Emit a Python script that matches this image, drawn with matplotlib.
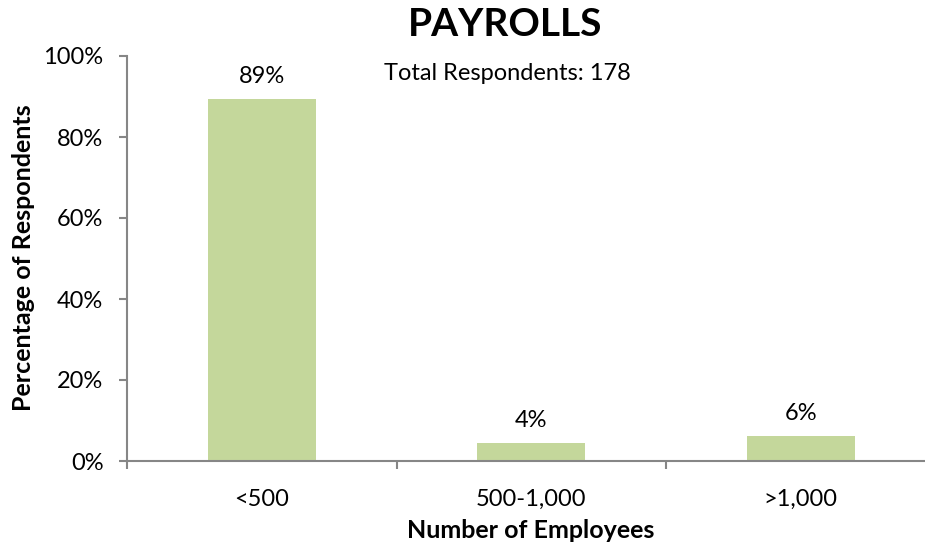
import matplotlib
matplotlib.use("Agg")
import matplotlib.pyplot as plt

# =========================
# DATA
# =========================

categories = ["<500", "500-1,000", ">1,000"]
values = [89.3, 4.5, 6.2]
value_labels = ["89%", "4%", "6%"]

# =========================
# PLOT
# =========================

plt.rcParams["font.family"] = ["Lato", "DejaVu Sans"]

fig = plt.figure(figsize=(9.25, 5.46), dpi=100)
ax = fig.add_axes([127 / 925, 85 / 546, 808.5 / 925, 405 / 546])

x = list(range(len(categories)))
ax.bar(x, values, width=0.4, color="#c4d79b")

for xi, v, lab in zip(x, values, value_labels):
    ax.text(xi, v + 3, lab, ha="center", va="bottom", fontsize=17)

ax.set_xlim(-0.5, 2.5)
ax.set_ylim(0, 100)
ax.set_yticks([0, 20, 40, 60, 80, 100])
ax.set_yticklabels(["0%", "20%", "40%", "60%", "80%", "100%"], fontsize=17)

ax.set_xticks([-0.5, 0.5, 1.5, 2.5])
ax.set_xticklabels([])
ax.set_xticks(x, minor=True)
ax.set_xticklabels(categories, minor=True, fontsize=17)
ax.tick_params(axis="x", which="minor", length=0, pad=20)
ax.tick_params(axis="x", which="major", length=6, color="#868686", width=1.5)
ax.tick_params(axis="y", length=6, color="#868686", width=1.5, pad=11)

for s in ["top", "right"]:
    ax.spines[s].set_visible(False)
for s in ["left", "bottom"]:
    ax.spines[s].set_color("#868686")
    ax.spines[s].set_linewidth(1.5)

fig.text(24 / 925, 1 - 258 / 546, "Percentage of Respondents", rotation=90,
         ha="center", va="center", fontsize=18, fontweight="bold")
fig.text(531 / 925, 1 - 530 / 546, "Number of Employees",
         ha="center", va="center", fontsize=18, fontweight="bold")

fig.text(505 / 925, 1 - 24 / 546, "PAYROLLS", ha="center", va="center",
         fontsize=28, fontweight="bold")
fig.text(507 / 925, 1 - 73 / 546, "Total Respondents: 178", ha="center",
         va="center", fontsize=17)

fig.savefig("out.png", dpi=100)
